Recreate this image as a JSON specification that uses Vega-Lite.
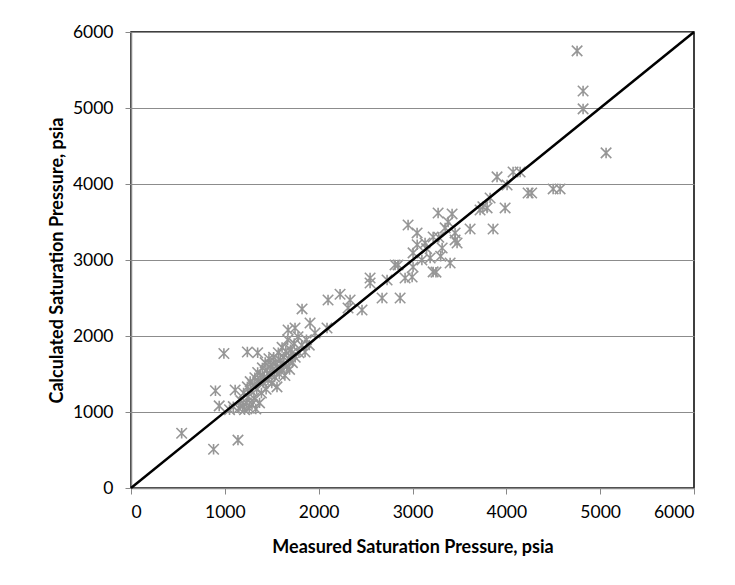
{
  "$schema": "https://vega.github.io/schema/vega-lite/v6.json",
  "autosize": {"type": "none"},
  "width": 563,
  "height": 456,
  "padding": {"left": 131, "top": 32, "right": 41, "bottom": 97},
  "background": "white",
  "config": {
    "view": {"stroke": "#000000", "strokeWidth": 1.5},
    "font": "Lato",
    "axis": {
      "labelFont": "Lato", "titleFont": "Lato", "labelFontSize": 17.5, "titleFontSize": 18,
      "labelColor": "#000000", "titleColor": "#000000", "titleFontWeight": "bold",
      "domainColor": "#888888", "tickColor": "#888888", "gridColor": "#8c8c8c",
      "domainWidth": 1.5, "tickSize": 6, "gridWidth": 1.2
    }
  },
  "datasets": {
    "pts": [
      {"m": 540, "c": 720}, {"m": 880, "c": 510}, {"m": 1140, "c": 630}, {"m": 900, "c": 1280},
      {"m": 940, "c": 1080}, {"m": 990, "c": 1770}, {"m": 1110, "c": 1290}, {"m": 1240, "c": 1790},
      {"m": 1350, "c": 1780}, {"m": 1050, "c": 1030}, {"m": 1090, "c": 1070},
      {"m": 1150, "c": 1050}, {"m": 1170, "c": 1150}, {"m": 1190, "c": 1080}, {"m": 1200, "c": 1250},
      {"m": 1210, "c": 1030}, {"m": 1230, "c": 1120}, {"m": 1240, "c": 1330}, {"m": 1250, "c": 1200},
      {"m": 1260, "c": 1050}, {"m": 1270, "c": 1400}, {"m": 1280, "c": 1280}, {"m": 1290, "c": 1100},
      {"m": 1300, "c": 1350}, {"m": 1310, "c": 1180}, {"m": 1320, "c": 1450}, {"m": 1330, "c": 1040},
      {"m": 1340, "c": 1300}, {"m": 1350, "c": 1520}, {"m": 1360, "c": 1400}, {"m": 1370, "c": 1120},
      {"m": 1380, "c": 1480}, {"m": 1390, "c": 1250}, {"m": 1400, "c": 1580}, {"m": 1410, "c": 1380},
      {"m": 1420, "c": 1460}, {"m": 1430, "c": 1650}, {"m": 1440, "c": 1300}, {"m": 1450, "c": 1550},
      {"m": 1460, "c": 1420}, {"m": 1470, "c": 1700}, {"m": 1480, "c": 1500}, {"m": 1490, "c": 1620},
      {"m": 1500, "c": 1380}, {"m": 1510, "c": 1560}, {"m": 1520, "c": 1720}, {"m": 1530, "c": 1460},
      {"m": 1540, "c": 1650}, {"m": 1556, "c": 1330}, {"m": 1560, "c": 1580}, {"m": 1570, "c": 1780},
      {"m": 1580, "c": 1500}, {"m": 1590, "c": 1680}, {"m": 1600, "c": 1560}, {"m": 1610, "c": 1850},
      {"m": 1620, "c": 1620}, {"m": 1630, "c": 1720}, {"m": 1640, "c": 1480}, {"m": 1650, "c": 1800},
      {"m": 1660, "c": 1600}, {"m": 1670, "c": 1950}, {"m": 1680, "c": 1700}, {"m": 1690, "c": 1560},
      {"m": 1700, "c": 1820}, {"m": 1716, "c": 1776}, {"m": 1720, "c": 1650}, {"m": 1740, "c": 1900},
      {"m": 1750, "c": 1720}, {"m": 1780, "c": 1990}, {"m": 1790, "c": 1780}, {"m": 1820, "c": 1880},
      {"m": 1855, "c": 1790}, {"m": 1870, "c": 1950}, {"m": 1908, "c": 2171}, {"m": 1674, "c": 2079},
      {"m": 1748, "c": 2105}, {"m": 1961, "c": 2040}, {"m": 1900, "c": 1880},
      {"m": 1823, "c": 2356}, {"m": 2100, "c": 2474}, {"m": 2228, "c": 2550}, {"m": 2335, "c": 2474},
      {"m": 2313, "c": 2369}, {"m": 2462, "c": 2342}, {"m": 2548, "c": 2763}, {"m": 2548, "c": 2698},
      {"m": 2729, "c": 2737}, {"m": 2676, "c": 2500}, {"m": 2846, "c": 2935}, {"m": 2089, "c": 2105},
      {"m": 2868, "c": 2500}, {"m": 2921, "c": 2763}, {"m": 2814, "c": 2935},
      {"m": 3006, "c": 2908}, {"m": 2996, "c": 2777},
      {"m": 2953, "c": 3461}, {"m": 3049, "c": 3356}, {"m": 3273, "c": 3619}, {"m": 3422, "c": 3606},
      {"m": 3475, "c": 3224}, {"m": 3401, "c": 2961}, {"m": 3220, "c": 2843}, {"m": 3250, "c": 2840},
      {"m": 3188, "c": 3027}, {"m": 3220, "c": 3303}, {"m": 3348, "c": 3422}, {"m": 3454, "c": 3356},
      {"m": 3454, "c": 3264}, {"m": 3316, "c": 3158}, {"m": 3134, "c": 3224}, {"m": 3006, "c": 3093},
      {"m": 3100, "c": 3000}, {"m": 3150, "c": 3150}, {"m": 3280, "c": 3300}, {"m": 3380, "c": 3500},
      {"m": 3050, "c": 3200}, {"m": 3300, "c": 3050},
      {"m": 3614, "c": 3408}, {"m": 3859, "c": 3408}, {"m": 3720, "c": 3658}, {"m": 3987, "c": 3685},
      {"m": 3827, "c": 3816}, {"m": 3795, "c": 3685}, {"m": 3901, "c": 4093}, {"m": 4072, "c": 4158},
      {"m": 4147, "c": 4158}, {"m": 4008, "c": 3987}, {"m": 4232, "c": 3882}, {"m": 4270, "c": 3882},
      {"m": 4499, "c": 3935}, {"m": 4573, "c": 3935}, {"m": 3750, "c": 3700},
      {"m": 4754, "c": 5751}, {"m": 4818, "c": 5224}, {"m": 4818, "c": 4988}, {"m": 5063, "c": 4409}
    ],
    "diag": [{"m": 0, "c": 0}, {"m": 6000, "c": 6000}]
  },
  "layer": [
    {
      "data": {"name": "pts"},
      "mark": {
        "type": "point",
        "shape": "M-1,-1L1,1M-1,1L1,-1M0,-1L0,1",
        "filled": false,
        "stroke": "#969696",
        "strokeWidth": 1.6,
        "size": 110,
        "opacity": 1
      },
      "encoding": {
        "x": {
          "field": "m", "type": "quantitative",
          "scale": {"domain": [0, 6000], "nice": false},
          "axis": {"values": [0, 1000, 2000, 3000, 4000, 5000, 6000], "grid": false, "format": "d",
                   "title": "Measured Saturation Pressure, psia", "labelPadding": 9, "titlePadding": 18}
        },
        "y": {
          "field": "c", "type": "quantitative",
          "scale": {"domain": [0, 6000], "nice": false},
          "axis": {"values": [0, 1000, 2000, 3000, 4000, 5000, 6000], "grid": true, "format": "d",
                   "title": "Calculated Saturation Pressure, psia", "labelPadding": 12, "titlePadding": 6}
        }
      }
    },
    {
      "data": {"name": "diag"},
      "mark": {"type": "line", "color": "#000000", "strokeWidth": 2.5},
      "encoding": {
        "x": {"field": "m", "type": "quantitative"},
        "y": {"field": "c", "type": "quantitative"}
      }
    }
  ]
}
